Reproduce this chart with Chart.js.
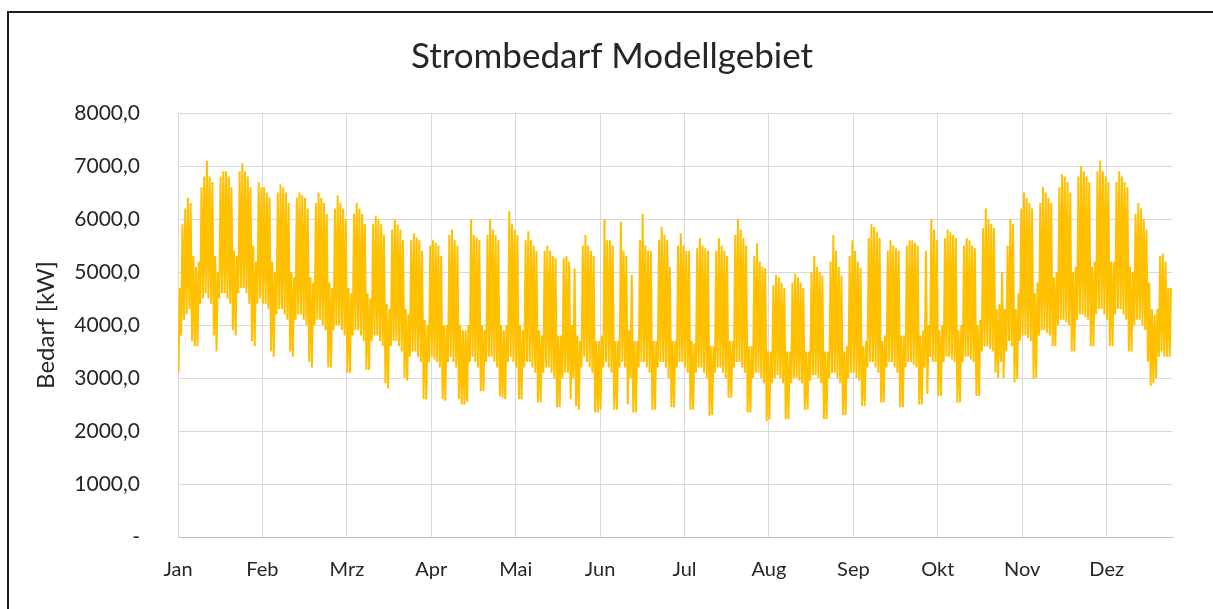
<!DOCTYPE html>
<html lang="de">
  <head>
    <meta charset="UTF-8" />
    <title>Strombedarf Modellgebiet</title>
    <script src="https://cdn.jsdelivr.net/npm/chart.js@4.4.1/dist/chart.umd.min.js"></script>
    <style>
      body { margin: 0; background: #fff; }
      #frame { position: absolute; left: 7px; top: 11px; width: 1300px; height: 700px; border: 2px solid #1e1e1e; }
      #wrap { position: absolute; left: 0; top: 0; width: 1213px; height: 609px; }
    </style>
  </head>
  <body>
    <div id="frame"></div>
    <div id="wrap"><canvas id="demand-chart"></canvas></div>

    <script>
      // 월 라벨 (744시간 간격)
      const monthLabels = ['Jan', 'Feb', 'Mrz', 'Apr', 'Mai', 'Jun', 'Jul', 'Aug', 'Sep', 'Okt', 'Nov', 'Dez'];
      const hoursPerLabel = 744;
      const hoursPerYear = 8760;

      // 일별 최대 수요 [kW] - 한 줄 = 한 주 (So..Sa)
      const dailyHigh = [
        4700, 5900, 6200, 6400, 6300, 5300, 5100,
        5200, 6600, 6800, 7100, 6800, 6700, 5300,
        5000, 6800, 6900, 6900, 6800, 6600, 5400,
        5300, 6900, 7050, 6900, 6800, 6600, 5500,
        5200, 6700, 6600, 6600, 6500, 6400, 5200,
        5000, 6500, 6650, 6600, 6500, 6300, 5000,
        4900, 6400, 6500, 6450, 6400, 6200, 4900,
        4800, 6300, 6500, 6400, 6300, 6100, 4800,
        4700, 6200, 6450, 6300, 6200, 6000, 4700,
        4600, 6100, 6300, 6200, 6100, 5900, 4600,
        4500, 5900, 6050, 6000, 5900, 5700, 4400,
        4300, 5800, 6000, 5900, 5800, 5600, 4300,
        4200, 5600, 5730, 5650, 5600, 5400, 4100,
        4000, 5500, 5600, 5550, 5500, 5300, 4000,
        4000, 5700, 5800, 5600, 5500, 4000, 3900,
        3900, 4000, 6000, 5700, 5650, 5600, 4000,
        3900, 5700, 6000, 5800, 5700, 5600, 4000,
        3900, 4000, 6150, 5900, 5800, 5700, 4000,
        3900, 5600, 5770, 5600, 5500, 5400, 3900,
        3800, 5400, 5500, 5400, 5300, 5260, 3800,
        3800, 5260, 5300, 5200, 4000, 5070, 3800,
        3700, 5500, 5700, 5500, 5400, 5300, 3700,
        3700, 3800, 6000, 5600, 5600, 5500, 3700,
        3700, 5950, 5400, 5300, 3900, 4950, 3700,
        3700, 5600, 6100, 5500, 5400, 5400, 3700,
        3700, 5600, 5850, 5700, 5600, 5100, 3700,
        3700, 5500, 5730, 5500, 5400, 5400, 3700,
        3650, 5450, 5640, 5500, 5450, 5400, 3600,
        3600, 5400, 5640, 5500, 5400, 5300, 3700,
        3700, 5700, 6000, 5800, 5640, 5500, 3600,
        3600, 5300, 5540, 5200, 5100, 5070, 3500,
        3500, 4750, 4950, 4900, 4800, 4700, 3500,
        3500, 4800, 4970, 4900, 4800, 4700, 3500,
        3500, 5000, 5300, 5100, 5000, 4930, 3500,
        3500, 5200, 5700, 5400, 5100, 4930, 3500,
        3600, 5300, 5600, 5400, 5200, 5070, 3600,
        3700, 5640, 5900, 5850, 5750, 5640, 3700,
        3800, 5400, 5600, 5500, 5450, 5400, 3800,
        3800, 5500, 5600, 5600, 5550, 5500, 3800,
        3900, 5400, 4000, 6000, 5800, 5600, 3900,
        4000, 5640, 5800, 5750, 5700, 5640, 3900,
        4000, 5500, 5640, 5600, 5500, 5450, 4000,
        4100, 5830, 6200, 6000, 5900, 5830, 4300,
        4400, 5000, 4300, 5500, 6000, 5900, 4300,
        4600, 6200, 6500, 6400, 6300, 6200, 4600,
        4800, 6300, 6600, 6500, 6400, 6300, 4900,
        5000, 6600, 6850, 6800, 6700, 6500, 5000,
        5100, 6800, 7000, 6900, 6800, 6700, 5100,
        5200, 6900, 7100, 6900, 6800, 6700, 5200,
        5200, 6700, 6900, 6800, 6700, 6600, 5100,
        5000, 6100, 6300, 6200, 6000, 5800, 4800,
        4300, 4200, 4300, 5300, 5350, 5200, 4700,
        4700
      ];

      // 일별 최소 수요 [kW]
      const dailyLow = [
        3100, 3800, 4100, 4200, 4300, 3700, 3600,
        3600, 4400, 4500, 4600, 4500, 4400, 3800,
        3500, 4500, 4600, 4600, 4500, 4400, 3900,
        3800, 4600, 4700, 4700, 4600, 4400, 3700,
        3600, 4400, 4500, 4400, 4400, 4300, 3500,
        3400, 4200, 4300, 4300, 4200, 4100, 3500,
        3400, 4100, 4200, 4200, 4100, 4000, 3300,
        3200, 4000, 4100, 4100, 4000, 3900, 3200,
        3200, 3900, 4000, 4000, 3900, 3800, 3100,
        3100, 3800, 3900, 3900, 3800, 3700, 3150,
        3150, 3700, 3800, 3800, 3700, 3600, 2900,
        2800, 3600, 3700, 3700, 3600, 3500, 3000,
        2950, 3400, 3500, 3500, 3400, 3300, 2600,
        2600, 3300, 3400, 3350, 3300, 3200, 2600,
        2570, 3300, 3400, 3300, 3200, 2600, 2500,
        2500, 2550, 3300, 3400, 3300, 3200, 2750,
        2750, 3300, 3400, 3400, 3300, 3200, 2650,
        2630, 2600, 3300, 3400, 3300, 3200, 2600,
        2600, 3200, 3300, 3300, 3200, 3100, 2540,
        2540, 3100, 3200, 3200, 3100, 3000, 2450,
        2450, 3000, 3100, 3100, 2600, 3000, 2470,
        2400, 3200, 3400, 3300, 3200, 3100, 2350,
        2350, 2400, 3200, 3300, 3200, 3100, 2400,
        2400, 3200, 3300, 3200, 2500, 3000, 2350,
        2350, 3200, 3300, 3300, 3200, 3100, 2400,
        2400, 3200, 3300, 3300, 3200, 3000, 2450,
        2450, 3200, 3300, 3300, 3200, 3100, 2400,
        2400, 3100, 3200, 3200, 3100, 3000, 2280,
        2300, 3100, 3200, 3200, 3100, 3000, 2630,
        2630, 3200, 3300, 3300, 3200, 3100, 2350,
        2350, 3000, 3100, 3100, 3000, 2900, 2190,
        2220, 2900, 3000, 3050, 3000, 2900, 2220,
        2220, 2900, 3000, 3000, 2950, 2900, 2400,
        2400, 2950, 3050, 3050, 3000, 2900, 2220,
        2220, 3000, 3100, 3100, 3000, 2900, 2300,
        2300, 3000, 3100, 3100, 3000, 2950, 2470,
        2470, 3200, 3300, 3300, 3200, 3100, 2540,
        2540, 3200, 3300, 3300, 3200, 3100, 2450,
        2450, 3200, 3300, 3300, 3250, 3200, 2500,
        2500, 3200, 2700, 3400, 3300, 3300, 2660,
        2660, 3300, 3400, 3400, 3350, 3300, 2540,
        2540, 3300, 3400, 3400, 3350, 3300, 2660,
        2660, 3500, 3600, 3600, 3550, 3500, 3100,
        3000, 3300, 3000, 3500, 3700, 3600, 2920,
        2980, 3700, 3800, 3800, 3750, 3700, 2980,
        3000, 3800, 3900, 3900, 3850, 3800, 3600,
        3600, 4000, 4100, 4100, 4050, 4000, 3500,
        3500, 4100, 4200, 4200, 4150, 4100, 3600,
        3600, 4200, 4300, 4300, 4200, 4100, 3600,
        3600, 4200, 4300, 4300, 4200, 4100, 3500,
        3500, 4000, 4100, 4100, 4000, 3900, 3300,
        2850, 2900, 3000, 3400, 3500, 3400, 3400,
        3400
      ];

      // 하루 = 새벽 최저 -> 낮 최고
      const points = [];
      dailyHigh.forEach((hi, d) => {
        points.push({ x: d * 24 + 4, y: dailyLow[d] });
        points.push({ x: d * 24 + 15, y: hi });
      });

      const fontFamily = 'Lato, "Open Sans", sans-serif';
      const textColor = '#262626';

      new Chart(document.getElementById('demand-chart'), {
        type: 'line',
        data: {
          datasets: [
            {
              data: points,
              borderColor: '#FFC000',
              borderWidth: 2,
              pointRadius: 0,
              tension: 0,
            },
          ],
        },
        options: {
          responsive: true,
          maintainAspectRatio: false,
          animation: false,
          // 제목이 가운데(x≈612)에 오도록 좌우 여백 조정
          layout: { padding: { left: 52, right: 41, top: 20, bottom: 0 } },
          plugins: {
            legend: { display: false },
            tooltip: { enabled: false },
            title: {
              display: true,
              text: 'Strombedarf Modellgebiet',
              color: textColor,
              font: { size: 35, family: fontFamily, weight: 'normal' },
              padding: { top: 16, bottom: 35 },
            },
          },
          scales: {
            x: {
              type: 'linear',
              min: 0,
              max: hoursPerYear,
              afterBuildTicks: (scale) => {
                scale.ticks = monthLabels.map((_, i) => ({ value: i * hoursPerLabel }));
              },
              afterFit: (scale) => { scale.height = 72; },
              grid: { color: '#d9d9d9', drawTicks: false },
              border: { color: '#bfbfbf' },
              ticks: {
                padding: 21,
                color: textColor,
                font: { size: 20, family: fontFamily },
                maxRotation: 0,
                callback: (value) => monthLabels[Math.round(value / hoursPerLabel)],
              },
            },
            y: {
              min: 0,
              max: 8000,
              afterFit: (scale) => { scale.width = 126; },
              grid: { color: '#d9d9d9', drawTicks: false },
              border: { color: '#d9d9d9' },
              title: {
                display: true,
                text: 'Bedarf [kW]',
                color: textColor,
                font: { size: 24, family: fontFamily },
                padding: { top: -20, bottom: 0 },
              },
              ticks: {
                stepSize: 1000,
                padding: 38,
                color: textColor,
                font: { size: 21, family: fontFamily },
                callback: (value) => (value === 0 ? '-' : value.toFixed(1).replace('.', ',')),
              },
            },
          },
        },
      });
    </script>
  </body>
</html>
